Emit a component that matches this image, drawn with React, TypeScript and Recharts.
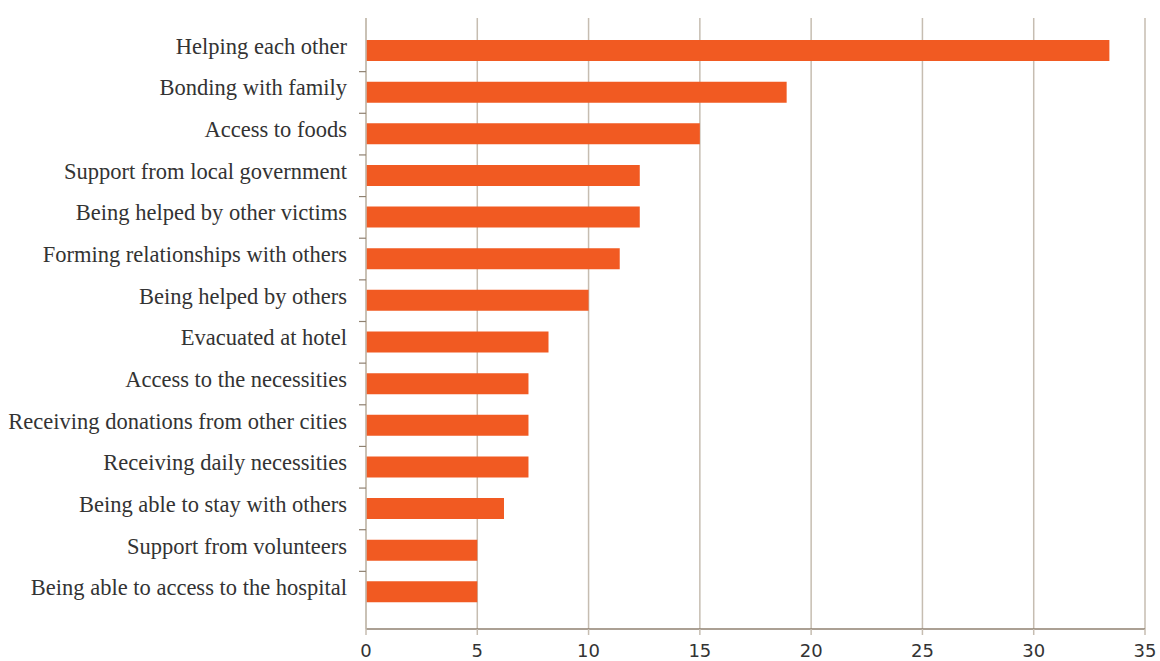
import { BarChart, Bar, XAxis, YAxis, CartesianGrid } from "recharts";

const categories = [
  "Helping each other",
  "Bonding with family",
  "Access to foods",
  "Support from local government",
  "Being helped by other victims",
  "Forming relationships with others",
  "Being helped by others",
  "Evacuated at hotel",
  "Access to the necessities",
  "Receiving donations from other cities",
  "Receiving daily necessities",
  "Being able to stay with others",
  "Support from volunteers",
  "Being able to access to the hospital",
];

const values = [33.4, 18.9, 15.0, 12.3, 12.3, 11.4, 10.0, 8.2, 7.3, 7.3, 7.3, 6.2, 5.0, 5.0];

const xTicks = [0, 5, 10, 15, 20, 25, 30, 35];

const data = categories.map((name, i) => ({ name, value: values[i] }));

const GRID = "#c6bdb1";
const AXIS = "#8f8170";
const CHART_H = 661;
const MARGIN_TOP = 18;
const X_AXIS_H = 32;
const PAD_TOP = 12;
const PAD_BOTTOM = 16;
const band = (CHART_H - MARGIN_TOP - X_AXIS_H - PAD_TOP - PAD_BOTTOM) / categories.length;

const CategoryTick = (props: any) => {
  const { x, y, payload, index } = props;
  return (
    <g>
      <text
        x={x}
        y={y}
        dy={3}
        textAnchor="end"
        fill="#333"
        fontFamily="'Liberation Serif', serif"
        fontSize={22.5}
      >
        {payload.value}
      </text>
      {index < categories.length - 1 && (
        <line x1={x + 12} x2={x + 19} y1={y + band / 2} y2={y + band / 2} stroke={AXIS} strokeWidth={1.2} />
      )}
    </g>
  );
};

const App = () => {
  return (
    <div style={{ position: "absolute", left: 0, top: 0, background: "#fff" }}>
      <BarChart
        layout="vertical"
        width={1160}
        height={CHART_H}
        data={data}
        margin={{ top: MARGIN_TOP, right: 15, bottom: 0, left: 0 }}
      >
        <CartesianGrid horizontal={false} vertical stroke={GRID} strokeWidth={1.5} xAxisId="bottom" />
        <XAxis
          xAxisId="bottom"
          type="number"
          domain={[0, 35]}
          ticks={xTicks}
          height={X_AXIS_H}
          axisLine={{ stroke: AXIS, strokeWidth: 1.5 }}
          tickLine={{ stroke: GRID, strokeWidth: 1.5 }}
          tickSize={6}
          tickMargin={9}
          tick={{ fill: "#333", fontSize: 18, fontFamily: "'DejaVu Sans', sans-serif" }}
        />
        <XAxis
          xAxisId="top"
          orientation="top"
          type="number"
          domain={[0, 35]}
          ticks={xTicks}
          height={0}
          axisLine={{ stroke: AXIS, strokeWidth: 1.5 }}
          tickLine={{ stroke: GRID, strokeWidth: 1.5 }}
          tickSize={6}
          tickFormatter={() => ""}
        />
        <YAxis
          type="category"
          dataKey="name"
          width={366}
          padding={{ top: PAD_TOP, bottom: PAD_BOTTOM }}
          axisLine={{ stroke: GRID, strokeWidth: 1.5 }}
          tickLine={false}
          tickSize={0}
          tickMargin={19}
          tick={<CategoryTick />}
          interval={0}
        />
        <Bar dataKey="value" xAxisId="bottom" fill="#f15a22" barSize={21} isAnimationActive={false} />
      </BarChart>
    </div>
  );
};

export default App;
